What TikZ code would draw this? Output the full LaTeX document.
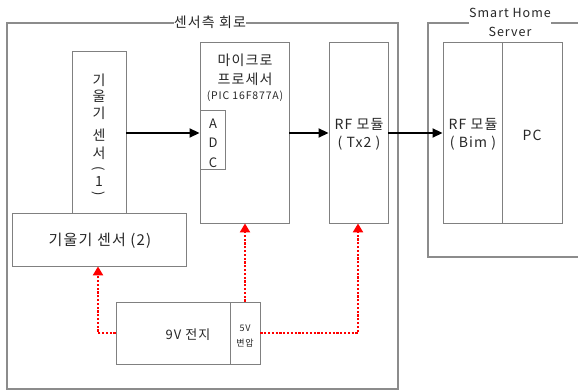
\documentclass[tikz,border=0pt]{standalone}
\usepackage{fontspec}
\setmainfont[LetterSpace=8]{Noto Sans CJK KR}
\usetikzlibrary{arrows.meta}
\begin{document}
\begin{tikzpicture}[x=1pt,y=-1pt,
  box/.style={draw=black!50,line width=0.9pt,inner sep=0pt},
  frame/.style={draw=black!45,line width=1.1pt},
  sig/.style={line width=1.8pt,-{Triangle[length=10pt,width=9pt]}},
  pwr/.style={draw=red,line width=2.2pt,dash pattern=on 2.2pt off 1.6pt,-{Triangle[length=9pt,width=10pt]}},
  lbl/.style={font=\fontsize{14}{15}\selectfont,text=black!85,align=center,inner sep=0pt},
  vch/.style={lbl,font=\fontsize{14}{15}\selectfont}]
\useasboundingbox (0,0) rectangle (578,390);
% outer frames
\draw[frame] (7,23) rectangle (398,389);
\node[fill=white,inner xsep=6pt,inner ysep=2pt,lbl,font=\fontsize{14}{15}\selectfont] (t1) at (210,22) {센서측 회로};
\draw[frame] (578,257) -- (428,257) -- (428,23) -- (578,23);
\node[fill=white,inner xsep=6pt,inner ysep=1pt,lbl,font=\fontsize{12.5}{19}\selectfont] (t2) at (510,22) {Smart Home\\Server};
% sensor 1
\node[box,fill=white,minimum width=54pt,minimum height=162pt] (s1) at (99,132) {};
\node[vch] (v1) at (99,80) {기};
\node[vch] (v2) at (99,96) {울};
\node[vch] (v3) at (99,113) {기};
\node[vch] (v4) at (99,135) {센};
\node[vch] (v5) at (99,153) {서};
\node[vch,rotate=-90,font=\fontsize{13}{14}\selectfont] (v6) at (99,169) {(};
\node[vch] (v7) at (99,182) {1};
\node[vch,rotate=-90,font=\fontsize{13}{14}\selectfont] (v8) at (99,194) {)};
% sensor 2
\node[box,fill=white,minimum width=174pt,minimum height=53pt] (s2) at (99,239.5) {};
\node[lbl,font=\fontsize{15}{16}\selectfont] (s2t) at (100,241) {기울기 센서 (2)};
% micro
\node[box,minimum width=89pt,minimum height=181pt] (mc) at (244.5,132.5) {};
\node[lbl,font=\fontsize{14}{19}\selectfont] (mct) at (245,70) {마이크로\\프로세서};
\node[lbl,font=\fontsize{10.5}{12}\selectfont] (mcp) at (245,96) {(PIC 16F877A)};
\node[box,minimum width=25pt,minimum height=59pt] (adc) at (212.5,139.5) {};
\node[lbl,font=\fontsize{13}{19.5}\selectfont] (adct) at (213,143) {A\\D\\C};
% RF tx
\node[box,minimum width=59pt,minimum height=181pt] (rf) at (358.5,132.5) {};
\node[lbl,font=\fontsize{14}{18}\selectfont] (rft) at (359,134) {RF 모듈\\( Tx2 )};
% server
\node[box,minimum width=59pt,minimum height=181pt] (bim) at (472.5,132.5) {};
\node[lbl,font=\fontsize{14}{18}\selectfont] (bimt) at (473,134) {RF 모듈\\( Bim )};
\node[box,minimum width=60pt,minimum height=181pt] (pc) at (532,132.5) {};
\node[lbl] (pct) at (532,135) {PC};
% battery
\node[box,minimum width=114pt,minimum height=62pt] (bat) at (173,333) {};
\node[lbl,font=\fontsize{13}{14}\selectfont] (batt) at (188,335) {9V 전지};
\node[box,minimum width=30pt,minimum height=62pt] (cv) at (245,333) {};
\node[lbl,font=\fontsize{9}{15}\selectfont] (cvt) at (245,335.5) {5V\\변압};
% signal arrows
\draw[sig] (s1.east |- 0,133) -- (mc.west |- 0,133);
\draw[sig] (mc.east |- 0,133) -- (rf.west |- 0,133);
\draw[sig] (rf.east |- 0,133) -- (bim.west |- 0,133);
% power arrows
\coordinate (c1) at (98,333);
\coordinate (c2) at (358,333);
\draw[pwr] (bat.west) -- (c1) -- (s2.south -| c1);
\draw[pwr] (cv.north) -- (mc.south -| cv.north);
\draw[pwr] (cv.east) -- (c2) -- (rf.south -| c2);
\end{tikzpicture}
\end{document}
